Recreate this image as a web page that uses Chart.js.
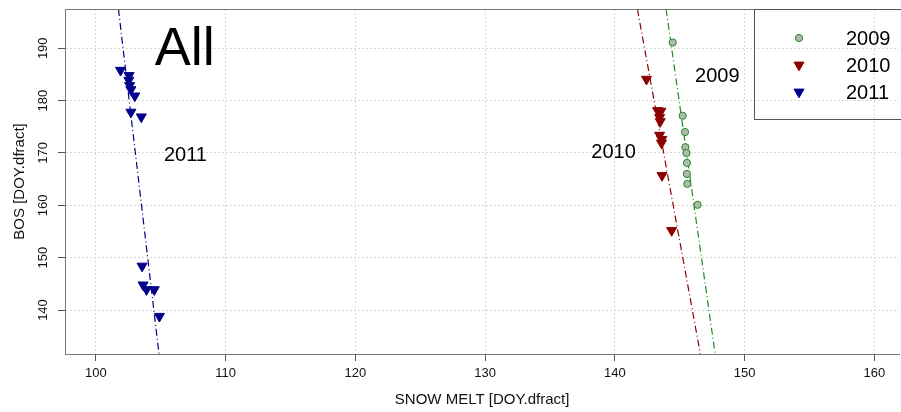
<!DOCTYPE html>
<html>
<head>
<meta charset="utf-8">
<script src="https://cdn.jsdelivr.net/npm/chart.js@4/dist/chart.umd.min.js"></script>
<style>
  html, body { margin: 0; padding: 0; background: #fff; overflow: hidden; }
  #clip { width: 901px; height: 412px; overflow: hidden; }
  /* 5px wider than the window: chart.js keeps a small right gap, the R plot runs off the edge */
  #wrap { width: 906px; height: 412px; position: relative; }
</style>
</head>
<body>
<div id="clip"><div id="wrap"><canvas id="bosChart"></canvas></div></div>
<script>
// data (DOY.dfract)
var x2009 = [144.46, 145.23, 145.41, 145.44, 145.52, 145.56, 145.56, 145.59, 146.38];
var y2009 = [191.1, 177.1, 174.0, 171.1, 170.0, 168.1, 166.0, 164.1, 160.1];

var x2010 = [142.44, 143.30, 143.55, 143.45, 143.50, 143.45, 143.62, 143.60, 143.64, 144.38];
var y2010 = [184.1, 178.1, 178.0, 176.8, 176.0, 173.4, 172.6, 171.9, 165.7, 155.2];

var x2011 = [101.90, 102.56, 102.54, 102.60, 102.70, 103.00, 102.70, 103.50, 103.56, 103.64, 103.90, 104.50, 104.90];
var y2011 = [185.8, 184.8, 183.9, 182.9, 182.1, 180.9, 177.8, 176.9, 148.4, 144.8, 143.9, 143.9, 138.8];

// fitted lines, end points where they leave the plot box
var fitX2009 = [143.95, 147.74];
var fitX2010 = [141.74, 146.60];
var fitX2011 = [101.74, 104.87];
var fitY = [197.5, 131.5];

var years = ['2009', '2010', '2011'];
var xTicks = [100, 110, 120, 130, 140, 150, 160];
var yTicks = [140, 150, 160, 170, 180, 190];

var FONT = '"Liberation Sans", Arial, sans-serif';
var GREEN = '#1e8b1e', RED = '#8b0000', BLUE = '#00008b';
var CIRCLE_FILL = '#b0bab0';
var DASHDOT = [7, 3, 1, 3];

function pts(xs, ys) {
    return xs.map(function(v, i) { return { x: v, y: ys[i] }; });
}

var triangle = {
    pointStyle: 'triangle',
    rotation: 180,
    pointRadius: 5.8,
    pointHoverRadius: 5.8,
    showLine: false
};

var datasets = [
    Object.assign({ label: '2011', data: pts(x2011, y2011), backgroundColor: BLUE, borderColor: BLUE, borderWidth: 1 }, triangle),
    Object.assign({ label: '2010', data: pts(x2010, y2010), backgroundColor: RED, borderColor: RED, borderWidth: 1 }, triangle),
    { label: '2009', data: pts(x2009, y2009), pointStyle: 'circle', pointRadius: 3.6, pointHoverRadius: 3.6,
      backgroundColor: CIRCLE_FILL, borderColor: GREEN, borderWidth: 1, showLine: false },
    { label: 'fit2011', data: pts(fitX2011, fitY), showLine: true, pointRadius: 0, borderColor: BLUE, borderWidth: 1.2, borderDash: DASHDOT },
    { label: 'fit2010', data: pts(fitX2010, fitY), showLine: true, pointRadius: 0, borderColor: RED, borderWidth: 1.2, borderDash: DASHDOT },
    { label: 'fit2009', data: pts(fitX2009, fitY), showLine: true, pointRadius: 0, borderColor: GREEN, borderWidth: 1.2, borderDash: DASHDOT }
];

// box top, rotated y labels, in-plot text and the R-style legend
var extras = {
    id: 'extras',
    afterDraw: function(chart) {
        var ctx = chart.ctx, area = chart.chartArea;
        var xs = chart.scales.x, ys = chart.scales.y;
        ctx.save();

        ctx.strokeStyle = '#777';
        ctx.lineWidth = 1;
        ctx.beginPath();
        ctx.moveTo(area.left, area.top + 0.5);
        ctx.lineTo(area.right, area.top + 0.5);
        ctx.stroke();

        ctx.fillStyle = '#111';
        ctx.font = '13px ' + FONT;
        ctx.textAlign = 'center';
        ctx.textBaseline = 'middle';
        yTicks.forEach(function(v) {
            ctx.save();
            ctx.translate(43, ys.getPixelForValue(v));
            ctx.rotate(-Math.PI / 2);
            ctx.fillText(String(v), 0, 0);
            ctx.restore();
        });

        ctx.fillStyle = '#000';
        ctx.font = '54px ' + FONT;
        ctx.fillText('All', xs.getPixelForValue(106.85), ys.getPixelForValue(189.6));
        ctx.font = '20px ' + FONT;
        ctx.fillText('2011', xs.getPixelForValue(106.9), ys.getPixelForValue(169.6));
        ctx.fillText('2010', xs.getPixelForValue(139.9), ys.getPixelForValue(170.0));
        ctx.fillText('2009', xs.getPixelForValue(147.9), ys.getPixelForValue(184.7));

        // legend box (runs off the right edge like the original)
        ctx.strokeStyle = '#555';
        ctx.strokeRect(754.5, area.top + 0.5, 200, 110);
        var rowY = [38, 65, 92];
        var marks = [
            { style: 'circle', r: 3.6, fill: CIRCLE_FILL, line: GREEN, rot: 0 },
            { style: 'triangle', r: 5.8, fill: RED, line: RED, rot: 180 },
            { style: 'triangle', r: 5.8, fill: BLUE, line: BLUE, rot: 180 }
        ];
        ctx.textAlign = 'left';
        years.forEach(function(label, i) {
            var m = marks[i];
            ctx.fillStyle = m.fill;
            ctx.strokeStyle = m.line;
            ctx.lineWidth = 1;
            Chart.helpers.drawPoint(ctx, { pointStyle: m.style, radius: m.r, rotation: m.rot, borderWidth: 1 }, 799, rowY[i]);
            ctx.fillStyle = '#000';
            ctx.fillText(label, 846, rowY[i] + 1);
        });
        ctx.restore();
    }
};

var ctx = document.getElementById('bosChart').getContext('2d');
new Chart(ctx, {
    type: 'scatter',
    data: { datasets: datasets },
    options: {
        responsive: true,
        maintainAspectRatio: false,
        animation: false,
        layout: { padding: { top: 9, right: 0, bottom: 0, left: 0 } },
        plugins: {
            legend: { display: false },
            tooltip: { enabled: false }
        },
        scales: {
            x: {
                type: 'linear',
                min: 97.62,
                max: 161.92,
                afterBuildTicks: function(scale) {
                    scale.ticks = xTicks.map(function(v) { return { value: v }; });
                },
                afterFit: function(scale) {
                    scale.height = 58;
                    scale.paddingLeft = 0;
                    scale.paddingRight = 0;
                },
                grid: { color: '#d8d8d8', tickColor: '#555', tickLength: 7, tickBorderDash: [] },
                border: { color: '#777', dash: [2, 2] },
                ticks: { color: '#111', font: { family: FONT, size: 13 }, padding: 5, maxRotation: 0 },
                title: { display: true, text: 'SNOW MELT [DOY.dfract]', color: '#111',
                         font: { family: FONT, size: 15 }, padding: { top: 0, bottom: 3 } }
            },
            y: {
                type: 'linear',
                min: 131.6,
                max: 197.5,
                afterBuildTicks: function(scale) {
                    scale.ticks = yTicks.map(function(v) { return { value: v }; });
                },
                afterFit: function(scale) {
                    scale.width = 65;
                    scale.paddingTop = 0;
                    scale.paddingBottom = 0;
                },
                grid: { color: '#d8d8d8', tickColor: '#555', tickLength: 7, tickBorderDash: [] },
                border: { color: '#777', dash: [2, 2] },
                ticks: { display: false },
                title: { display: true, text: 'BOS [DOY.dfract]', color: '#111',
                         font: { family: FONT, size: 15 }, padding: { top: 11, bottom: 0 } }
            }
        }
    },
    plugins: [extras]
});
</script>
</body>
</html>
